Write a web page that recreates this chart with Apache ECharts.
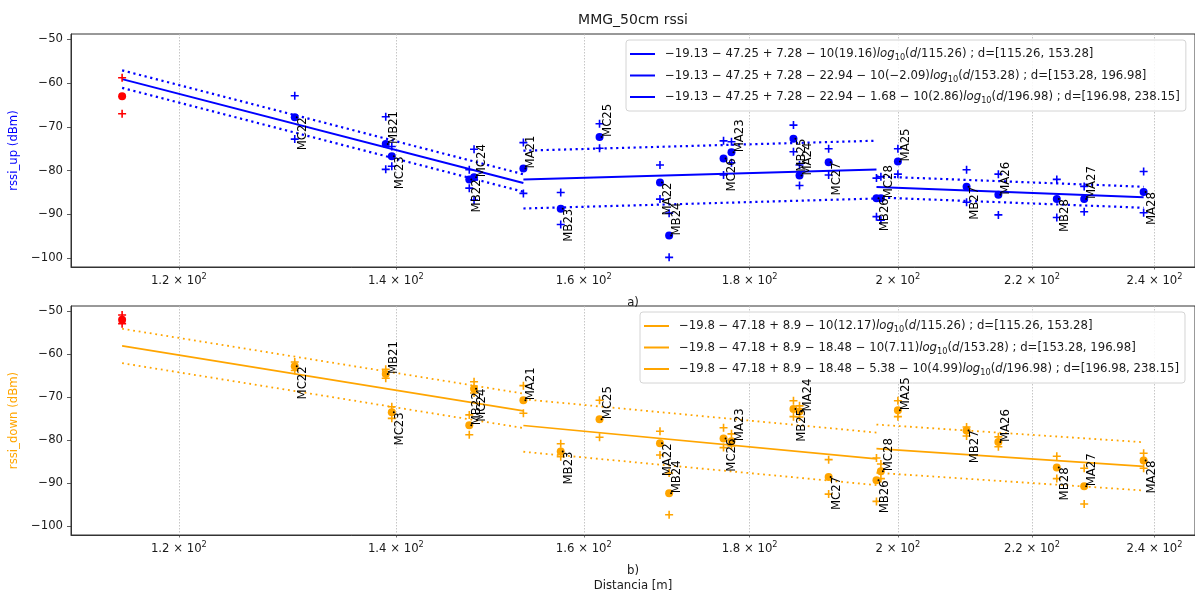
<!DOCTYPE html>
<html>
<head>
<meta charset="utf-8">
<script src="https://cdn.jsdelivr.net/npm/echarts@6/dist/echarts.min.js"></script>
<style>
  html, body { margin: 0; padding: 0; background: #fff; }
  #chart { width: 1195px; height: 594px; }
</style>
</head>
<body>
<div id="chart"></div>
<script>
// Measurement sites and their distance to the gateway [m]
const sites = ['MC22', 'MB21', 'MC23', 'MB22', 'MC24', 'MA21', 'MB23', 'MC25', 'MA22', 'MB24', 'MC26', 'MA23',
  'MB25', 'MA24', 'MC27', 'MB26', 'MC28', 'MA25', 'MB27', 'MA26', 'MB28', 'MA27', 'MA28'];
const distance = [130.3, 139.0, 139.6, 147.5, 148.0, 153.28, 157.4, 161.8, 168.9, 170.0, 176.7, 177.7,
  185.7, 186.5, 190.4, 196.98, 197.6, 200.0, 210.0, 214.8, 223.9, 228.3, 238.15];

// Uplink RSSI (dBm): mean, upper and lower spread markers
const upMean = [-67.8, -73.9, -76.7, -82.0, -81.5, -79.5, -88.7, -72.3, -82.7, -94.8, -77.2, -75.8,
  -72.7, -81.1, -78.1, -86.3, -86.3, -77.9, -83.7, -85.5, -86.5, -86.5, -84.9];
const upHigh = [-62.9, -67.7, -74.5, -79.8, -75.1, -73.6, -85.0, -69.3, -78.7, -89.7, -73.2, -73.4,
  -69.6, -78.7, -75.0, -81.7, -81.4, -75.0, -79.8, -80.8, -82.0, -83.6, -80.2];
const upLow = [-72.8, -79.7, -79.0, -84.0, -86.7, -85.2, -92.3, -74.9, -86.5, -99.8, -81.0, -78.2,
  -75.7, -83.4, -81.0, -90.5, -91.3, -80.8, -87.2, -90.1, -90.7, -89.4, -89.6];

// Downlink RSSI (dBm): mean, upper and lower spread markers
const downMean = [-62.8, -64.6, -73.5, -76.5, -68.0, -70.7, -82.6, -75.1, -80.7, -92.3, -79.6, -80.2,
  -72.7, -73.3, -88.5, -89.3, -87.2, -73.0, -77.7, -80.4, -86.3, -90.7, -84.7];
const downHigh = [-61.8, -63.5, -72.2, -74.1, -66.4, -67.3, -80.8, -70.7, -77.9, -87.6, -77.1, -78.5,
  -70.8, -72.0, -84.5, -84.1, -85.5, -70.8, -76.9, -79.2, -83.7, -86.5, -83.0];
const downLow = [-63.8, -65.6, -74.9, -78.7, -69.0, -73.7, -83.8, -79.3, -83.4, -97.3, -81.7, -81.3,
  -74.5, -74.6, -92.5, -94.2, -88.9, -74.5, -79.0, -81.5, -88.9, -94.8, -86.5];

// Reference point at the first breakpoint: [mean, upper, lower]
const refDistance = 115.26;
const refUp = [-63.0, -58.8, -67.0];
const refDown = [-52.0, -50.9, -52.9];

// Piecewise log-distance path-loss models
const breaks = [115.26, 153.28, 196.98, 238.15];
const upTerms = [-19.13, -47.25, 7.28];
const upSteps = [-22.94, -1.68];
const upExponents = [19.16, -2.09, 2.86];
const upSpread = [2.0, 6.6, 2.4];
const downTerms = [-19.8, -47.18, 8.9];
const downSteps = [-18.48, -5.38];
const downExponents = [12.17, 7.11, 4.99];
const downSpread = [4.0, 6.1, 5.6];

// Axis ticks
const xTicks = [120, 140, 160, 180, 200, 220, 240];
const yTicks = [-100, -90, -80, -70, -60, -50];

const FONT = 'DejaVu Sans';
const BLUE = '#0000ff', ORANGE = '#ffa500', RED = '#ff0000', INK = '#1a1a1a';
const PLUS = 'path://M4,0H6V4H10V6H6V10H4V6H0V4H4Z';
const lg = Math.log10;

// Which site names are written upward from their point (others hang below)
const labelUp = {
  up: ['MB21', 'MC24', 'MA21', 'MC25', 'MB24', 'MA23', 'MA24', 'MC28', 'MA25', 'MA26', 'MA27'],
  down: ['MB21', 'MB22', 'MA21', 'MC25', 'MB24', 'MA23', 'MA24', 'MC28', 'MA25', 'MA26', 'MA27']
};

function signed(v) { return (v < 0 ? '\u2212' : '') + Math.abs(v); }

function buildModel(terms, steps, exponents, spread) {
  const segs = [];
  let level = terms.reduce((a, b) => a + b, 0);
  for (let k = 0; k < exponents.length; k++) {
    if (k > 0) level += steps[k - 1];
    const d0 = breaks[k], d1 = breaks[k + 1];
    const f = d => level - 10 * exponents[k] * lg(d / d0);
    const parts = terms.concat(steps.slice(0, k));
    let head = signed(parts[0]);
    for (let i = 1; i < parts.length; i++) head += (parts[i] < 0 ? ' \u2212 ' : ' + ') + Math.abs(parts[i]);
    head += ' \u2212 10(' + signed(exponents[k]) + ')';
    const tail = ' ; d=[' + d0 + ', ' + d1 + ']';
    segs.push({
      name: head + 'log10(d/' + d0 + ')' + tail,
      rich: '{g|}' + head + '{it|log}{sub|10}({it|d}/' + d0 + ')' + tail,
      mid: [[lg(d0), f(d0)], [lg(d1), f(d1)]],
      hi: [[lg(d0), f(d0) + spread[k]], [lg(d1), f(d1) + spread[k]]],
      lo: [[lg(d0), f(d0) - spread[k]], [lg(d1), f(d1) - spread[k]]]
    });
  }
  return segs;
}

const upModel = buildModel(upTerms, upSteps, upExponents, upSpread);
const downModel = buildModel(downTerms, downSteps, downExponents, downSpread);
const richNames = {};
upModel.concat(downModel).forEach(s => { richNames[s.name] = s.rich; });

function panelSeries(idx, color, model, mean, high, low, ref, upList, solidW, dotW, dotDash) {
  const out = [];
  model.forEach(s => {
    out.push({ type: 'line', name: s.name, xAxisIndex: idx, yAxisIndex: idx, data: s.mid, symbol: 'none',
      lineStyle: { color: color, width: solidW }, itemStyle: { color: color }, z: 2, silent: true });
    [s.hi, s.lo].forEach(d => out.push({ type: 'line', xAxisIndex: idx, yAxisIndex: idx, data: d, symbol: 'none',
      lineStyle: { color: color, width: dotW, type: dotDash, cap: 'butt' }, z: 2, silent: true }));
  });
  out.push({ type: 'scatter', xAxisIndex: idx, yAxisIndex: idx, symbol: PLUS, symbolSize: 8, z: 3, silent: true,
    itemStyle: { color: color, opacity: 1 },
    data: sites.map((_, i) => [lg(distance[i]), high[i]]).concat(sites.map((_, i) => [lg(distance[i]), low[i]])) });
  out.push({ type: 'scatter', xAxisIndex: idx, yAxisIndex: idx, symbol: 'circle', symbolSize: 8, z: 4, silent: true,
    itemStyle: { color: color, opacity: 1 }, data: sites.map((_, i) => [lg(distance[i]), mean[i]]) });
  out.push({ type: 'scatter', xAxisIndex: idx, yAxisIndex: idx, symbol: PLUS, symbolSize: 8, z: 4, silent: true,
    itemStyle: { color: RED, opacity: 1 }, data: [[lg(refDistance), ref[1]], [lg(refDistance), ref[2]]] });
  out.push({ type: 'scatter', xAxisIndex: idx, yAxisIndex: idx, symbol: 'circle', symbolSize: 8, z: 4, silent: true,
    itemStyle: { color: RED, opacity: 1 }, data: [[lg(refDistance), ref[0]]] });
  out.push({ type: 'scatter', xAxisIndex: idx, yAxisIndex: idx, symbol: 'circle', symbolSize: 2, symbolOffset: [2, 0],
    z: 6, silent: true, itemStyle: { color: '#000', opacity: 1 },
    label: { show: true, rotate: 90, position: 'inside', verticalAlign: 'top', fontSize: 11.7, fontFamily: FONT,
      color: '#000', formatter: p => p.value[2] },
    data: sites.map((s, i) => ({ value: [lg(distance[i]), mean[i], s],
      label: { align: upList.includes(s) ? 'left' : 'right' } })) });
  return out;
}

const xRange = [lg(111.15), lg(247.0)];

function xAxis(idx, name) {
  return {
    type: 'value', gridIndex: idx, min: xRange[0], max: xRange[1],
    name: name, nameLocation: 'middle', nameGap: 28,
    nameTextStyle: { color: INK, fontSize: 11.7, fontFamily: FONT, lineHeight: 15 },
    axisLine: { show: true, onZero: false, lineStyle: { color: '#333', width: 1 } },
    axisTick: { show: true, length: 2.5, customValues: xTicks.map(lg), lineStyle: { color: '#333', width: 0.7 } },
    axisLabel: {
      customValues: xTicks.map(lg), margin: 6, color: INK, fontFamily: FONT,
      formatter: v => '{b|' + (Math.round(Math.pow(10, v)) / 100) + ' \u00d7 10}{sup|2}',
      rich: {
        b: { fontSize: 11.7, fontFamily: FONT, color: INK, lineHeight: 16 },
        sup: { fontSize: 8.2, fontFamily: FONT, color: INK, lineHeight: 9, verticalAlign: 'top' }
      }
    },
    splitLine: { show: true, lineStyle: { color: '#b8b8b8', width: 0.8, type: [1.5, 1.5] } }
  };
}

function yAxis(idx, name, color) {
  return {
    type: 'value', gridIndex: idx, min: -102, max: -48.8,
    name: name, nameLocation: 'middle', nameGap: 46,
    nameTextStyle: { color: color, fontSize: 11.7, fontFamily: FONT },
    axisLine: { show: true, lineStyle: { color: '#333', width: 1 } },
    axisTick: { show: true, length: 4, customValues: yTicks, lineStyle: { color: '#333', width: 0.8 } },
    axisLabel: { customValues: yTicks, margin: 8, color: INK, fontSize: 11.7, fontFamily: FONT,
      formatter: v => signed(v) },
    splitLine: { show: false }
  };
}

function legend(model, left, top) {
  return {
    orient: 'vertical', left: left, top: top, data: model.map(s => s.name),
    icon: 'rect', itemWidth: 25, itemHeight: 2, itemGap: 5.5,
    padding: [6, 6, 6, 4], backgroundColor: 'rgba(255,255,255,0.85)', borderColor: '#d4d4d4',
    borderWidth: 1, borderRadius: 3, selectedMode: false,
    formatter: n => richNames[n],
    textStyle: {
      fontSize: 11.7, fontFamily: FONT, color: INK, lineHeight: 16,
      rich: {
        g: { width: 5 },
        it: { fontStyle: 'italic', fontSize: 11.7, fontFamily: FONT, color: INK, lineHeight: 16 },
        sub: { fontSize: 8.2, fontFamily: FONT, color: INK, lineHeight: 9, verticalAlign: 'bottom' }
      }
    }
  };
}

const chart = echarts.init(document.getElementById('chart'), null, { renderer: 'canvas' });
chart.setOption({
  animation: false,
  backgroundColor: '#fff',
  graphic: [{ type: 'text', x: 633, y: 20, silent: true,
    style: { text: 'MMG_50cm rssi', font: '14px "DejaVu Sans"', fill: INK, align: 'center', verticalAlign: 'middle' } }],
  grid: [
    { left: 71, top: 34, width: 1124, height: 233, show: true, borderColor: '#333', borderWidth: 1, backgroundColor: 'transparent' },
    { left: 71, top: 306, width: 1124, height: 233, show: true, borderColor: '#333', borderWidth: 1, backgroundColor: 'transparent' }
  ],
  xAxis: [xAxis(0, 'a)'), xAxis(1, 'b)\nDistancia [m]')],
  yAxis: [yAxis(0, 'rssi_up (dBm)', BLUE), yAxis(1, 'rssi_down (dBm)', ORANGE)],
  legend: [legend(upModel, 626, 40), legend(downModel, 640, 312)],
  series: panelSeries(0, BLUE, upModel, upMean, upHigh, upLow, refUp, labelUp.up, 2, 2.2, [2.2, 3.6])
    .concat(panelSeries(1, ORANGE, downModel, downMean, downHigh, downLow, refDown, labelUp.down, 1.7, 1.8, [1.8, 3.8]))
});
</script>
</body>
</html>
